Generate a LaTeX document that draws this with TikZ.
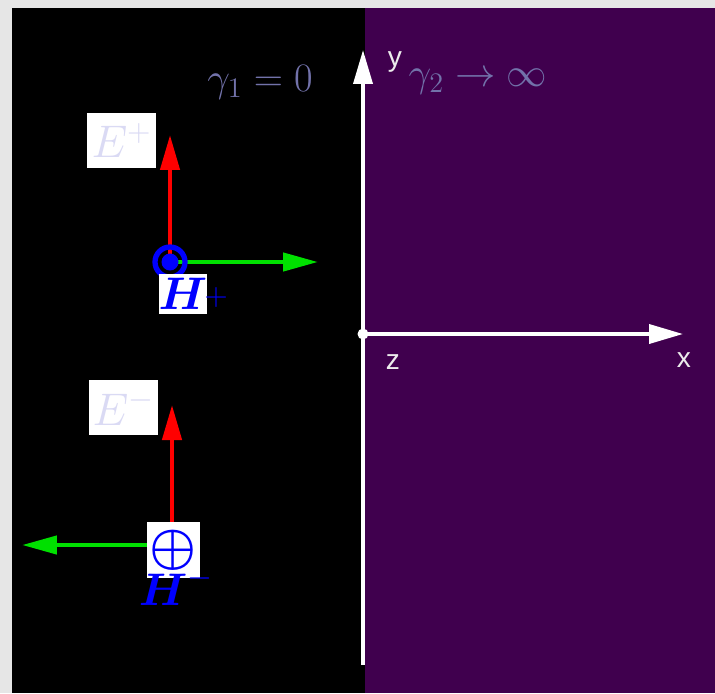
\documentclass[tikz,border=0pt]{standalone}
\usepackage{fix-cm}
\usepackage{amsmath}
\usepackage{fontspec}
\newfontfamily\axfont{Liberation Sans}
\usetikzlibrary{arrows.meta,positioning}
\definecolor{SlabPurple}{HTML}{40004E}
\definecolor{PaperGrey}{HTML}{E6E6E6}
\definecolor{GammaBlue}{HTML}{7272AA}
\definecolor{ELavender}{HTML}{DADAF4}
\definecolor{FieldRed}{HTML}{FF0000}
\definecolor{FieldGreen}{HTML}{00E000}

\begin{document}
\begin{tikzpicture}[
        x=0.02cm,y=-0.02cm,
        lblbox/.style={fill=white,inner sep=0pt,minimum width=1.38cm,minimum height=1.1cm,text=ELavender,font=\fontsize{26}{30}\selectfont},
        hlabel/.style={inner sep=0pt,text=blue,font=\fontsize{26}{30}\selectfont},
        gam/.style={text=GammaBlue,font=\fontsize{23}{28}\selectfont},
        axlbl/.style={text=white!85!gray,font=\axfont\fontsize{16}{18}\selectfont},
        efield/.style={-{Triangle[length=0.7cm,width=0.38cm]},line width=2.5pt,FieldRed},
        hfield/.style={-{Triangle[length=0.7cm,width=0.36cm]},line width=2.5pt,FieldGreen},
        axis/.style={-{Triangle[length=0.68cm,width=0.38cm]},line width=2.1pt,white}
      ]
        \useasboundingbox (0,0) rectangle (715,693);
        \fill[PaperGrey] (0,0) rectangle (715,693);
        \fill[black] (12,8) rectangle (365,693);
        \fill[SlabPurple] (365,8) rectangle (715,693);

        % axes
        \coordinate (o) at (363,334);
        \coordinate (ybot) at (363,665);
        \coordinate (ytop) at (363,50);
        \coordinate (xend) at (683,334);
        \draw[axis] (ybot)--(ytop);
        \draw[axis] (o)--(xend);
        \fill[white] (o) circle (5.5);
        \node[axlbl] (ylbl) at (395,62) {y};
        \node[axlbl] (zlbl) at (393,362) {z};
        \node[axlbl] (xlbl) at (684,360) {x};
        \node[gam] (g1) at (260,82) {$\gamma_1=0$};
        \node[gam] (g2) at (478,82) {$\gamma_2\rightarrow\infty$};

        % incident wave
        \coordinate (inc) at (170,262);
        \coordinate (Etip) at (170,135);
        \coordinate (ktip) at (318,262);
        \draw[efield] (inc)--(Etip);
        \draw[hfield] (inc)--(ktip);
        \draw[blue,line width=3pt] (inc) circle (15);
        \fill[blue] (inc) circle (8.5);
        \node[lblbox] (Ep) at (121.5,140.5) {$E^{+}$};
        \node[hlabel,fill=white,minimum width=0.78cm,minimum height=0.8cm,
              label={[hlabel,xshift=-2pt,yshift=-6pt]right:$^{+}$}] (Hp) at (183,294) {$\boldsymbol{H}$};

        % reflected wave
        \coordinate (refl) at (172,545);
        \coordinate (Etip2) at (172,405);
        \coordinate (ktip2) at (22,545);
        \draw[efield] (refl)--(Etip2);
        \draw[hfield] (refl)--(ktip2);
        \node[lblbox] (Em) at (123.5,407.5) {$E^{-}$};
        \node[fill=white,inner sep=0pt,minimum width=1.06cm,minimum height=1.12cm,
              text=blue,font=\fontsize{30}{34}\selectfont] (into) at (173.5,550) {$\boldsymbol{\oplus}$};
        \node[hlabel] (Hm) at (176,587) {$\boldsymbol{H}^{-}$};
      \end{tikzpicture}
\end{document}
